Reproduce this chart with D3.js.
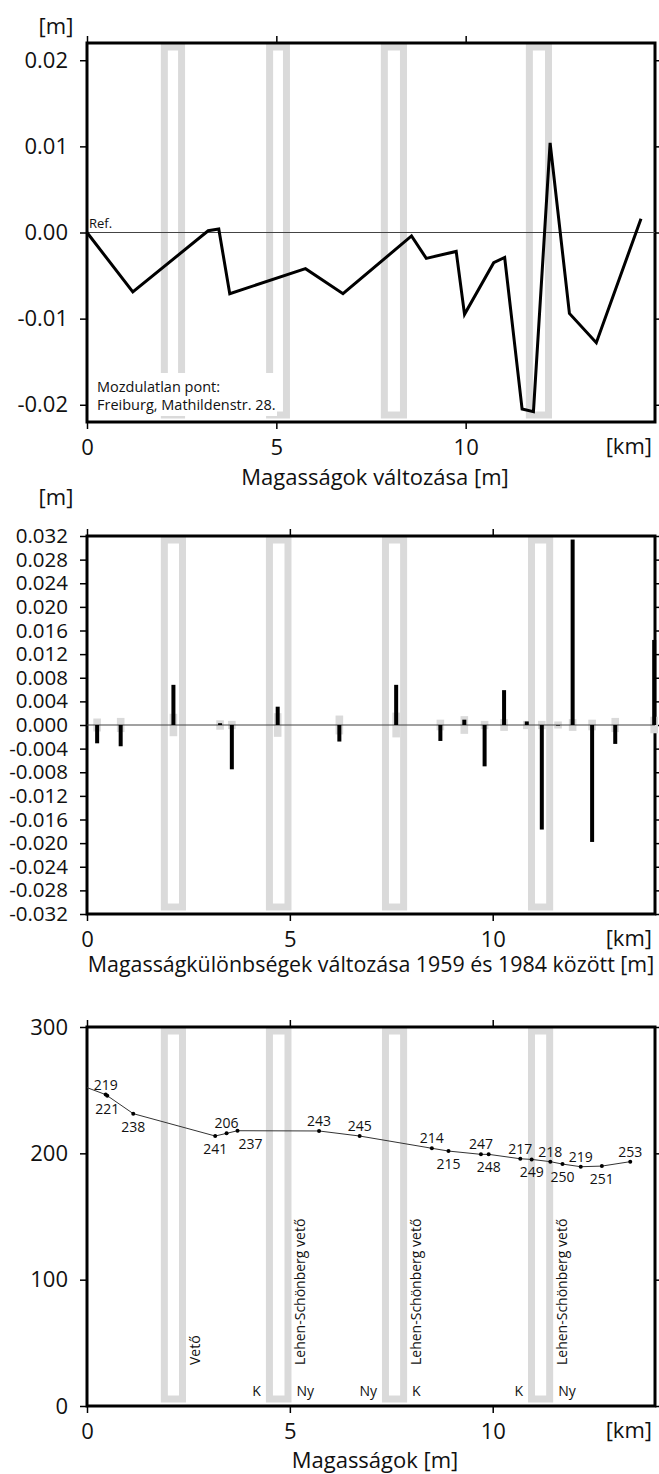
<!DOCTYPE html>
<html>
<head>
<meta charset="utf-8">
<script src="https://cdn.jsdelivr.net/npm/d3@7"></script>
<style>
  body { margin: 0; background: #fff; }
  svg text { font-family: "Open Sans", sans-serif; fill: #111; }
</style>
</head>
<body>
<svg id="chart" width="659" height="1474"></svg>
<script>
'use strict'

// Top panel: height change relative to the reference point, along the line [km, m]
const changeKm = [0, 1.21, 3.2, 3.48, 3.77, 5.77, 6.76, 8.57, 8.96, 9.75, 9.97, 10.74, 11.03, 11.49, 11.79, 12.23, 12.74, 13.45, 14.63]
const changeVal = [0, -0.0069, 0.0002, 0.0004, -0.0071, -0.0042, -0.0071, -0.0004, -0.003, -0.0022, -0.0095, -0.0035, -0.0029, -0.0205, -0.0208, 0.0104, -0.0094, -0.0128, 0.0016]
const changeTicks = [-0.02, -0.01, 0, 0.01, 0.02]

// Middle panel: change of height differences 1959-1984 (black) and their error (grey)
const diffKm = [0.25, 0.83, 2.13, 3.28, 3.57, 4.7, 6.22, 7.62, 8.71, 9.3, 9.8, 10.28, 10.84, 11.21, 11.61, 11.97, 12.45, 13.02, 13.98]
const diffVal = [-0.0031, -0.0036, 0.0068, 0.0003, -0.0075, 0.0031, -0.0028, 0.0068, -0.0027, 0.0009, -0.007, 0.0059, 0.0006, -0.0177, -0.0001, 0.0314, -0.0198, -0.0032, 0.0144]
const diffErr = [0.0011, 0.0012, 0.0019, 0.0008, 0.0007, 0.002, 0.0016, 0.0021, 0.0009, 0.0015, 0.0007, 0.001, 0.0007, 0.0007, 0.0006, 0.001, 0.0009, 0.0012, 0.0014]
const diffTicks = d3.range(-8, 9).map(i => i * 0.004)

// Bottom panel: elevation profile with benchmark numbers
const profileKm = [0, 0.46, 0.5, 1.14, 3.16, 3.44, 3.71, 5.72, 6.72, 8.5, 8.91, 9.71, 9.9, 10.68, 10.96, 11.42, 11.72, 12.17, 12.69, 13.39]
const profileH = [252, 246.5, 245.6, 231.4, 213.7, 215.8, 217.9, 217.7, 213.7, 204, 201.8, 199.2, 199.2, 195.7, 195.2, 193.4, 191.5, 189.4, 189.9, 193.4]
const profileLabel = ['', '219', '221', '238', '241', '206', '237', '243', '245', '214', '215', '247', '248', '217', '249', '218', '250', '219', '251', '253']
const labelSide = ['', 'a', 'b', 'b', 'b', 'a', 'br', 'a', 'a', 'a', 'b', 'a', 'b', 'a', 'b', 'a', 'b', 'a', 'b', 'a']
const profileTicks = [0, 100, 200, 300]

// Fault zones [from, to] in km (top panel is drawn on a 15 km axis, the others on 14 km)
const faultKmTop = [[1.95, 2.59], [4.73, 5.36], [7.76, 8.45], [11.59, 12.28]]
const faultKm = [[1.82, 2.44], [4.41, 5.04], [7.27, 7.89], [10.87, 11.49]]
const faultNames = ['Vető', 'Lehen-Schönberg vető', 'Lehen-Schönberg vető', 'Lehen-Schönberg vető']
const sideWest = ['', 'K', 'Ny', 'K']
const sideEast = ['', 'Ny', 'K', 'Ny']
const kmTicks = [0, 5, 10]

const svg = d3.select('#chart')
const left = 87, right = 655
const grey = '#dadada'

function panel({ top, bottom, kmMax, yDomain, yTicks, yFormat, tickFont, faults, title, titleY, titleSize, titleX, unitY }) {
  const g = svg.append('g')
  const x = d3.scaleLinear().domain([0, kmMax]).range([left, right])
  const y = d3.scaleLinear().domain(yDomain).range([bottom, top])

  // Fault zones as open grey boxes.
  g.append('g')
    .selectAll('rect')
    .data(faults)
    .join('rect')
    .attr('x', d => x(d[0]) + 3.5)
    .attr('width', d => x(d[1]) - x(d[0]) - 7)
    .attr('y', top + 4)
    .attr('height', bottom - top - 11)
    .attr('fill', 'none')
    .attr('stroke', grey)
    .attr('stroke-width', 7)

  const axes = g.append('g').attr('class', 'axes')
  const draw = () => {
    axes.append('rect')
      .attr('x', left).attr('y', top)
      .attr('width', right - left).attr('height', bottom - top)
      .attr('fill', 'none').attr('stroke', '#000').attr('stroke-width', 3)

    const style = size => sel => {
      sel.select('.domain').remove()
      sel.selectAll('.tick line').attr('stroke', '#000').attr('stroke-width', 1.5)
      sel.selectAll('text').attr('fill', '#111').attr('font-size', size)
      sel.attr('font-family', null)
    }
    axes.append('g').attr('transform', `translate(${left},0)`)
      .call(d3.axisLeft(y).tickValues(yTicks).tickFormat(yFormat).tickSize(7).tickPadding(12))
      .call(style(tickFont))
    axes.append('g').attr('transform', `translate(${right},0)`)
      .call(d3.axisRight(y).tickValues(yTicks).tickFormat('').tickSize(7))
      .call(style(tickFont))
    axes.append('g').attr('transform', `translate(0,${top})`)
      .call(d3.axisTop(x).tickValues(kmTicks).tickFormat('').tickSize(7))
      .call(style(22))
    axes.append('g').attr('transform', `translate(0,${bottom})`)
      .call(d3.axisBottom(x).tickValues(kmTicks).tickFormat(d => d).tickSize(7).tickPadding(10))
      .call(style(22))

    axes.append('text').attr('x', 652).attr('y', bottom + 32)
      .attr('text-anchor', 'end').attr('font-size', 22).text('[km]')
    axes.append('text').attr('x', titleX || 375).attr('y', titleY)
      .attr('text-anchor', 'middle').attr('font-size', titleSize || 22).text(title)
    if (unitY) {
      axes.append('text').attr('x', 56).attr('y', unitY)
        .attr('text-anchor', 'middle').attr('font-size', 22).text('[m]')
    }
  }
  return { g, x, y, draw }
}

// ---- Panel 1: Magasságok változása ----
const p1 = panel({
  top: 43, bottom: 422, kmMax: 15, yDomain: [-0.022, 0.022],
  yTicks: changeTicks, yFormat: d => d.toFixed(2), tickFont: 22, faults: faultKmTop,
  title: 'Magasságok változása [m]', titleY: 485, unitY: 34,
})
p1.g.append('line')
  .attr('x1', left).attr('x2', right)
  .attr('y1', p1.y(0)).attr('y2', p1.y(0))
  .attr('stroke', '#444').attr('stroke-width', 1)
p1.g.append('path')
  .datum(d3.zip(changeKm, changeVal))
  .attr('d', d3.line().x(d => p1.x(d[0])).y(d => p1.y(d[1])))
  .attr('fill', 'none').attr('stroke', '#000').attr('stroke-width', 3)
p1.g.append('text').attr('x', p1.x(0) + 2).attr('y', p1.y(0) - 5)
  .attr('font-size', 13).text('Ref.')
p1.g.append('rect').attr('x', left + 2).attr('y', 373)
  .attr('width', 188).attr('height', 43).attr('fill', '#fff')
p1.g.append('text').attr('x', 97).attr('y', 392).attr('font-size', 14.5).text('Mozdulatlan pont:')
p1.g.append('text').attr('x', 97).attr('y', 410).attr('font-size', 14.5).text('Freiburg, Mathildenstr. 28.')
p1.draw()

// ---- Panel 2: Magasságkülönbségek változása ----
const p2 = panel({
  top: 536, bottom: 914, kmMax: 14, yDomain: [-0.032, 0.032],
  yTicks: diffTicks, yFormat: d => d.toFixed(3), tickFont: 20.5, faults: faultKm,
  title: 'Magasságkülönbségek változása 1959 és 1984 között [m]', titleY: 972,
  titleSize: 21.4, titleX: 371, unitY: 505,
})
const diffData = diffKm.map((km, i) => ({ km, v: diffVal[i], e: diffErr[i] }))
p2.g.append('g').selectAll('rect')
  .data(diffData).join('rect')
  .attr('x', d => p2.x(d.km) - 3.8).attr('width', 7.6)
  .attr('y', d => p2.y(d.e)).attr('height', d => p2.y(-d.e) - p2.y(d.e))
  .attr('fill', grey)
p2.g.append('line')
  .attr('x1', left).attr('x2', right)
  .attr('y1', p2.y(0)).attr('y2', p2.y(0))
  .attr('stroke', '#444').attr('stroke-width', 1)
p2.g.append('g').selectAll('rect')
  .data(diffData).join('rect')
  .attr('x', d => p2.x(d.km) - 2).attr('width', 4)
  .attr('y', d => p2.y(Math.max(0, d.v)))
  .attr('height', d => Math.abs(p2.y(d.v) - p2.y(0)))
  .attr('fill', '#000')
p2.draw()

// ---- Panel 3: Magasságok ----
const p3 = panel({
  top: 1027, bottom: 1406, kmMax: 14, yDomain: [0, 300],
  yTicks: profileTicks, yFormat: d => d, tickFont: 22, faults: faultKm,
  title: 'Magasságok [m]', titleY: 1468, unitY: null,
})
const profile = profileKm.map((km, i) => ({ km, h: profileH[i], label: profileLabel[i], side: labelSide[i] }))
p3.g.append('path')
  .datum(profile)
  .attr('d', d3.line().x(d => p3.x(d.km)).y(d => p3.y(d.h)))
  .attr('fill', 'none').attr('stroke', '#333').attr('stroke-width', 1)
const marks = p3.g.append('g').selectAll('g')
  .data(profile.filter(d => d.label)).join('g')
  .attr('transform', d => `translate(${p3.x(d.km)},${p3.y(d.h)})`)
marks.append('circle').attr('r', 2).attr('fill', '#000')
marks.append('text')
  .attr('x', d => (d.side === 'br' ? 13 : 0))
  .attr('y', d => (d.side === 'a' ? -5 : 18))
  .attr('text-anchor', 'middle').attr('font-size', 14)
  .text(d => d.label)

const faultInfo = faultKm.map((f, i) => ({ f, name: faultNames[i], w: sideWest[i], e: sideEast[i] }))
p3.g.append('g').selectAll('text')
  .data(faultInfo).join('text')
  .attr('transform', d => `translate(${p3.x(d.f[1]) + 14},1365) rotate(-90)`)
  .attr('font-size', 14).text(d => d.name)
p3.g.append('g').selectAll('text')
  .data(faultInfo.filter(d => d.w)).join('text')
  .attr('x', d => p3.x(d.f[0]) - 5).attr('y', 1396)
  .attr('text-anchor', 'end').attr('font-size', 14).text(d => d.w)
p3.g.append('g').selectAll('text')
  .data(faultInfo.filter(d => d.e)).join('text')
  .attr('x', d => p3.x(d.f[1]) + 5).attr('y', 1396)
  .attr('font-size', 14).text(d => d.e)
p3.draw()
</script>
</body>
</html>
